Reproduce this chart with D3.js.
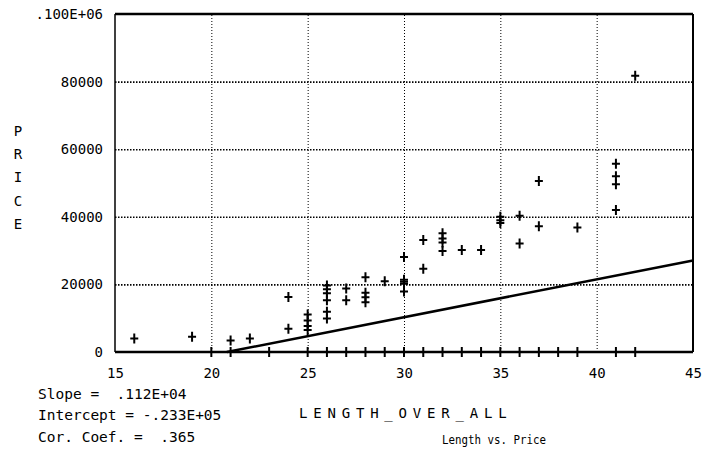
<!DOCTYPE html>
<meta charset="utf-8">
<script src="https://d3js.org/d3.v7.min.js"></script>
<style>
  body { margin: 0; background: #fff; }
  text { font-family: "DejaVu Sans Mono", monospace; fill: #000; }
</style>
<div id="chart"></div>
<script>
// data: boat length (ft) vs price
const lengths = [16, 19, 20, 21, 21, 22, 23,
  24, 24, 25, 25, 25, 25, 25,
  26, 26, 26, 26, 26, 26, 26,
  27, 27, 27, 28, 28, 28, 28, 28, 29, 29,
  30, 30, 30, 30, 30, 30, 31, 31, 31,
  32, 32, 32, 32, 32, 33, 33, 34, 34,
  35, 35, 35, 35, 36, 36, 36, 37, 37, 37, 38, 39, 39,
  41, 41, 41, 41, 41, 42, 42];
const prices = [4000, 4500, 0, 3400, 0, 4000, 0,
  16300, 6900, 11100, 9300, 7700, 6500, 0,
  19700, 18600, 17400, 15300, 11900, 9900, 0,
  18800, 15300, 0, 22100, 17500, 16200, 14700, 0, 20900, 0,
  28100, 21400, 20800, 20200, 17900, 0, 33100, 24600, 0,
  35100, 33600, 32400, 29900, 0, 30200, 0, 30200, 0,
  40000, 39000, 38200, 0, 40300, 32100, 0, 50600, 37200, 0, 0, 36800, 0,
  55700, 52000, 49600, 42000, 0, 81700, 0];

const xTicks = [15, 20, 25, 30, 35, 40, 45];
const yTicks = [0, 20000, 40000, 60000, 80000, 100000];
const yTickLabels = ["0", "20000", "40000", "60000", "80000", ".100E+06"];

const slope = 1120, intercept = -23300;
const statLines = ["Slope =  .112E+04", "Intercept = -.233E+05", "Cor. Coef. =  .365"];

const W = 708, H = 461;
const svg = d3.select("#chart").append("svg")
  .attr("width", W).attr("height", H);

const x = d3.scaleLinear().domain([15, 45]).range([115, 693]);
const y = d3.scaleLinear().domain([0, 100000]).range([352, 14]);

// dotted grid
svg.append("g")
  .attr("transform", "translate(0,352)")
  .call(d3.axisBottom(x).tickValues(xTicks.slice(1, -1)).tickSize(-338).tickFormat(""))
  .call(g => g.select(".domain").remove())
  .call(g => g.selectAll("line").attr("stroke", "#000").attr("stroke-width", 1)
    .attr("stroke-dasharray", "1,2"));
svg.append("g")
  .attr("transform", "translate(115,0)")
  .call(d3.axisLeft(y).tickValues(yTicks.slice(1, -1)).tickSize(-578).tickFormat(""))
  .call(g => g.select(".domain").remove())
  .call(g => g.selectAll("line").attr("stroke", "#000").attr("stroke-width", 1.6)
    .attr("stroke-dasharray", "1.5,1.5"));

// tick labels
svg.append("g")
  .attr("transform", "translate(0,352)")
  .call(d3.axisBottom(x).tickValues(xTicks).tickSize(0).tickPadding(16))
  .call(g => g.select(".domain").remove())
  .call(g => g.selectAll("text").attr("font-size", 14).attr("font-family", "DejaVu Sans Mono"));
svg.append("g")
  .attr("transform", "translate(115,0)")
  .call(d3.axisLeft(y).tickValues(yTicks).tickSize(0).tickPadding(12)
    .tickFormat((d, i) => yTickLabels[i]))
  .call(g => g.select(".domain").remove())
  .call(g => g.selectAll("text").attr("font-size", 14).attr("font-family", "DejaVu Sans Mono"));

// frame
svg.append("line").attr("x1", 115).attr("x2", 693).attr("y1", 14).attr("y2", 14)
  .attr("stroke", "#000").attr("stroke-width", 2.5);
svg.append("line").attr("x1", 115).attr("x2", 693).attr("y1", 352).attr("y2", 352)
  .attr("stroke", "#000").attr("stroke-width", 2.5);
svg.append("line").attr("x1", 115).attr("x2", 115).attr("y1", 14).attr("y2", 352)
  .attr("stroke", "#000").attr("stroke-width", 1.5);
svg.append("line").attr("x1", 693).attr("x2", 693).attr("y1", 14).attr("y2", 352)
  .attr("stroke", "#000").attr("stroke-width", 2);

// regression line
const x0 = -intercept / slope;
svg.append("line")
  .attr("x1", x(x0)).attr("y1", y(0))
  .attr("x2", x(45)).attr("y2", y(slope * 45 + intercept))
  .attr("stroke", "#000").attr("stroke-width", 2.5);

// plus markers
svg.append("g").selectAll("path")
  .data(lengths.map((d, i) => [d, prices[i]]))
  .join("path")
  .attr("transform", d => `translate(${x(d[0])},${y(d[1])})`)
  .attr("d", "M-4,0H4M0,-5V5")
  .attr("stroke", "#000").attr("stroke-width", 2);

// axis titles
svg.append("g").selectAll("text")
  .data("PRICE".split(""))
  .join("text")
  .attr("x", 18).attr("y", (d, i) => 136 + i * 23.2)
  .attr("text-anchor", "middle").attr("font-size", 14)
  .text(d => d);

svg.append("text")
  .attr("x", 299).attr("y", 418)
  .attr("font-size", 14).attr("letter-spacing", 5.8)
  .text("LENGTH_OVER_ALL");

svg.append("text")
  .attr("x", 442).attr("y", 444)
  .attr("font-size", 13).attr("textLength", 104).attr("lengthAdjust", "spacingAndGlyphs")
  .text("Length vs. Price");

// regression stats
svg.append("g").selectAll("text")
  .data(statLines)
  .join("text")
  .attr("x", 38).attr("y", (d, i) => 398.5 + i * 21.7)
  .attr("font-size", 14.5)
  .attr("xml:space", "preserve")
  .style("white-space", "pre")
  .text(d => d);
</script>
